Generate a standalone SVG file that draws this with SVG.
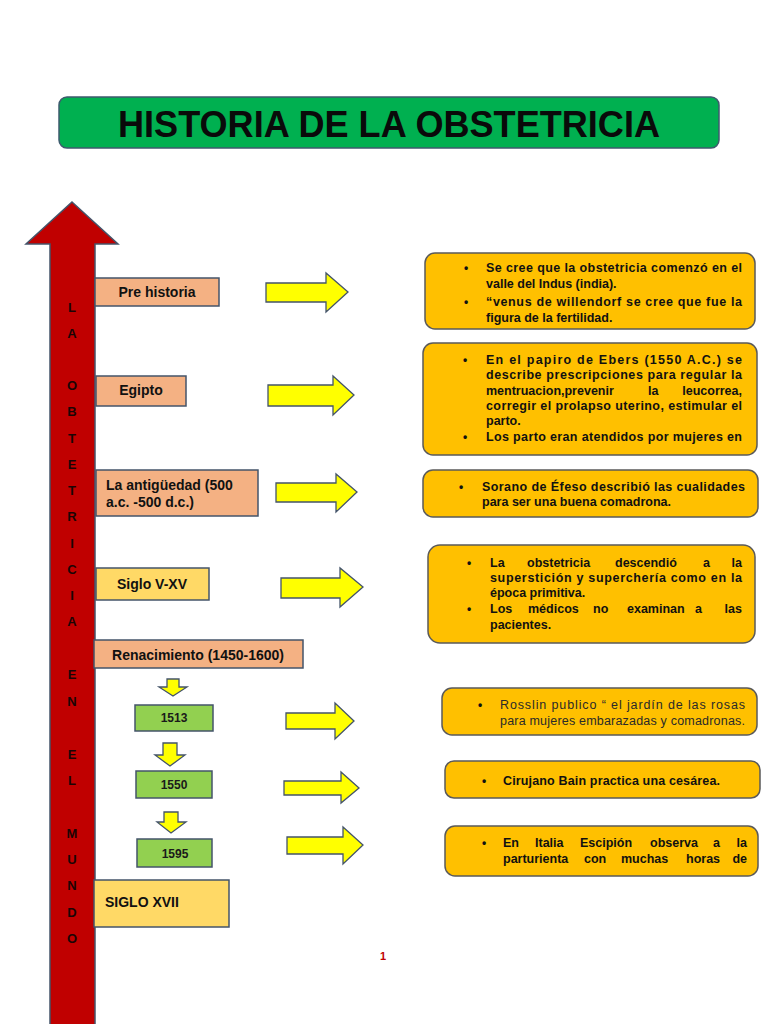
<svg xmlns="http://www.w3.org/2000/svg" width="768" height="1024" viewBox="0 0 768 1024">
<style>
text{font-family:"Liberation Sans",Arial,sans-serif}
.lab{font-size:14px;font-weight:bold;fill:#111}
.yr{font-size:12px;font-weight:bold;fill:#1a1a1a;text-anchor:middle}
.bx{stroke:#44546A;stroke-width:1.5}
.peach{fill:#F4B183}
.gold{fill:#FFD966}
.green{fill:#92D050}
.rbox{fill:#FFC000;stroke:#5A5A5A;stroke-width:1.5}
.t{font-size:12.5px;font-weight:bold;fill:#111}
.tn{font-size:12.5px;fill:#2a2a2a}
.bul{font-size:12px;font-weight:bold;fill:#111;text-anchor:middle}
.yarr{fill:#FFFF00;stroke:#44546A;stroke-width:1.3;stroke-linejoin:miter}
.vl{font-size:13px;font-weight:bold;fill:#1a0505;text-anchor:middle}
</style>

<g id="title">
<rect x="59" y="97" width="660" height="51" rx="8" fill="#00B050" stroke="#3E5A6E" stroke-width="1.5"/>
<text x="389" y="137" text-anchor="middle" font-size="36" font-weight="bold" fill="#0a0a0a" textLength="542" lengthAdjust="spacingAndGlyphs">HISTORIA DE LA OBSTETRICIA</text>
</g>

<g id="timeline-arrow">
<polygon points="72,202 118,244 95,244 95,1030 50,1030 50,244 26,244" fill="#C00000" stroke="#44546A" stroke-width="1.5"/>
<text class="vl" x="72" y="312">L</text>
<text class="vl" x="72" y="338">A</text>
<text class="vl" x="72" y="390">O</text>
<text class="vl" x="72" y="416">B</text>
<text class="vl" x="72" y="443">T</text>
<text class="vl" x="72" y="469">E</text>
<text class="vl" x="72" y="495">T</text>
<text class="vl" x="72" y="521">R</text>
<text class="vl" x="72" y="548">I</text>
<text class="vl" x="72" y="574">C</text>
<text class="vl" x="72" y="600">I</text>
<text class="vl" x="72" y="626">A</text>
<text class="vl" x="72" y="679">E</text>
<text class="vl" x="72" y="706">N</text>
<text class="vl" x="72" y="759">E</text>
<text class="vl" x="72" y="785">L</text>
<text class="vl" x="72" y="838">M</text>
<text class="vl" x="72" y="864">U</text>
<text class="vl" x="72" y="890">N</text>
<text class="vl" x="72" y="917">D</text>
<text class="vl" x="72" y="943">O</text>
</g>

<g id="pre-historia">
<rect class="bx peach" x="95" y="278" width="124" height="28"/>
<text class="lab" x="157" y="297" text-anchor="middle">Pre historia</text>
</g>
<g id="egipto">
<rect class="bx peach" x="96" y="376" width="90" height="30"/>
<text class="lab" x="141" y="395" text-anchor="middle">Egipto</text>
</g>
<g id="antiguedad">
<rect class="bx peach" x="96" y="470" width="162" height="46"/>
<text class="lab" x="106" y="490">La antigüedad (500</text>
<text class="lab" x="106" y="507">a.c. -500 d.c.)</text>
</g>
<g id="siglo-v-xv">
<rect class="bx gold" x="96" y="568" width="113" height="32"/>
<text class="lab" x="152" y="589" text-anchor="middle">Siglo V-XV</text>
</g>
<g id="renacimiento">
<rect class="bx peach" x="94" y="640" width="209" height="28"/>
<text class="lab" x="198" y="660" text-anchor="middle">Renacimiento (1450-1600)</text>
</g>
<g id="y1513">
<rect class="bx green" x="135" y="705" width="78" height="26"/>
<text class="yr" x="174" y="722">1513</text>
</g>
<g id="y1550">
<rect class="bx green" x="136" y="771" width="76" height="27"/>
<text class="yr" x="174" y="789">1550</text>
</g>
<g id="y1595">
<rect class="bx green" x="137" y="839" width="75" height="28"/>
<text class="yr" x="175" y="858">1595</text>
</g>
<g id="siglo-xvii">
<rect class="bx gold" x="94" y="880" width="135" height="47"/>
<text class="lab" x="105" y="907" font-size="13">SIGLO XVII</text>
</g>

<g id="connectors">
<polygon class="yarr" points="167,679 179,679 179,687 187,687 173,696 159,687 167,687"/>
<polygon class="yarr" points="163,743 177,743 177,755 185,755 170,766 155,755 163,755"/>
<polygon class="yarr" points="164,812 178,812 178,822 186,822 171,833 157,822 164,822"/>
<polygon class="yarr" points="266,283 326,283 326,273 348,292 326,312 326,302 266,302"/>
<polygon class="yarr" points="268,385 333,385 333,376 354,395 333,415 333,406 268,406"/>
<polygon class="yarr" points="276,483 336,483 336,474 357,492 336,512 336,502 276,502"/>
<polygon class="yarr" points="281,578 340,578 340,568 363,587 340,607 340,598 281,598"/>
<polygon class="yarr" points="286,713 335,713 335,703 354,721 335,739 335,729 286,729"/>
<polygon class="yarr" points="284,781 341,781 341,772 359,788 341,803 341,795 284,795"/>
<polygon class="yarr" points="287,837 343,837 343,827 363,845 343,864 343,854 287,854"/>
</g>

<g id="desc-prehistoria">
<rect class="rbox" x="425" y="253" width="330" height="76" rx="10"/>
<text class="bul" x="466" y="272">•</text>
<text class="t" x="486" y="272" textLength="256" lengthAdjust="spacing">Se cree que la obstetricia comenzó en el</text>
<text class="t" x="486" y="288">valle del Indus (india).</text>
<text class="bul" x="466" y="306">•</text>
<text class="t" x="486" y="306" textLength="256" lengthAdjust="spacing">“venus de willendorf se cree que fue la</text>
<text class="t" x="486" y="322">figura de la fertilidad.</text>
</g>

<g id="desc-egipto">
<rect class="rbox" x="423" y="343" width="334" height="112" rx="10"/>
<text class="bul" x="465" y="364">•</text>
<text class="t" x="486" y="364" textLength="256" lengthAdjust="spacing">En el papiro de Ebers (1550 A.C.) se</text>
<text class="t" x="486" y="379" textLength="256" lengthAdjust="spacing">describe prescripciones para regular la</text>
<text class="t" y="395"><tspan x="486">mentruacion,prevenir</tspan><tspan x="648">la</tspan><tspan x="742" text-anchor="end">leucorrea,</tspan></text>
<text class="t" x="486" y="410" textLength="256" lengthAdjust="spacing">corregir el prolapso uterino, estimular el</text>
<text class="t" x="486" y="425">parto.</text>
<text class="bul" x="465" y="441">•</text>
<text class="t" x="486" y="441" textLength="256" lengthAdjust="spacing">Los parto eran atendidos por mujeres en</text>
</g>

<g id="desc-antiguedad">
<rect class="rbox" x="423" y="470" width="335" height="47" rx="10"/>
<text class="bul" x="461" y="491">•</text>
<text class="t" x="482" y="491" textLength="263" lengthAdjust="spacing">Sorano de Éfeso describió las cualidades</text>
<text class="t" x="482" y="506">para ser una buena comadrona.</text>
</g>

<g id="desc-siglo-v-xv">
<rect class="rbox" x="428" y="545" width="327" height="98" rx="12"/>
<text class="bul" x="469" y="567">•</text>
<text class="t" y="567"><tspan x="490">La</tspan><tspan x="527">obstetricia</tspan><tspan x="615">descendió</tspan><tspan x="703">a</tspan><tspan x="742" text-anchor="end">la</tspan></text>
<text class="t" x="490" y="582" textLength="252" lengthAdjust="spacing">superstición y superchería como en la</text>
<text class="t" x="490" y="597">época primitiva.</text>
<text class="bul" x="469" y="613">•</text>
<text class="t" y="613"><tspan x="490">Los</tspan><tspan x="528">médicos</tspan><tspan x="593">no</tspan><tspan x="627">examinan</tspan><tspan x="695">a</tspan><tspan x="742" text-anchor="end">las</tspan></text>
<text class="t" x="490" y="629">pacientes.</text>
</g>

<g id="desc-1513">
<rect class="rbox" x="442" y="688" width="315" height="47" rx="10"/>
<text class="bul" x="480" y="709">•</text>
<text class="tn" x="500" y="709" textLength="245" lengthAdjust="spacing">Rosslin publico “ el jardín de las rosas</text>
<text class="tn" x="500" y="725" textLength="245" lengthAdjust="spacing">para mujeres embarazadas y comadronas.</text>
</g>

<g id="desc-1550">
<rect class="rbox" x="445" y="761" width="315" height="37" rx="9"/>
<text class="bul" x="484" y="785">•</text>
<text class="t" x="503" y="785" textLength="217" lengthAdjust="spacing">Cirujano Bain practica una cesárea.</text>
</g>

<g id="desc-1595">
<rect class="rbox" x="445" y="826" width="313" height="50" rx="10"/>
<text class="bul" x="484" y="847">•</text>
<text class="t" y="847"><tspan x="503">En</tspan><tspan x="535">Italia</tspan><tspan x="580">Escipión</tspan><tspan x="650">observa</tspan><tspan x="713">a</tspan><tspan x="747" text-anchor="end">la</tspan></text>
<text class="t" y="863"><tspan x="503">parturienta</tspan><tspan x="584">con</tspan><tspan x="621">muchas</tspan><tspan x="686">horas</tspan><tspan x="747" text-anchor="end">de</tspan></text>
</g>

<g id="page-number">
<text x="383" y="960" text-anchor="middle" font-size="11" font-weight="bold" fill="#C00000">1</text>
</g>
</svg>
